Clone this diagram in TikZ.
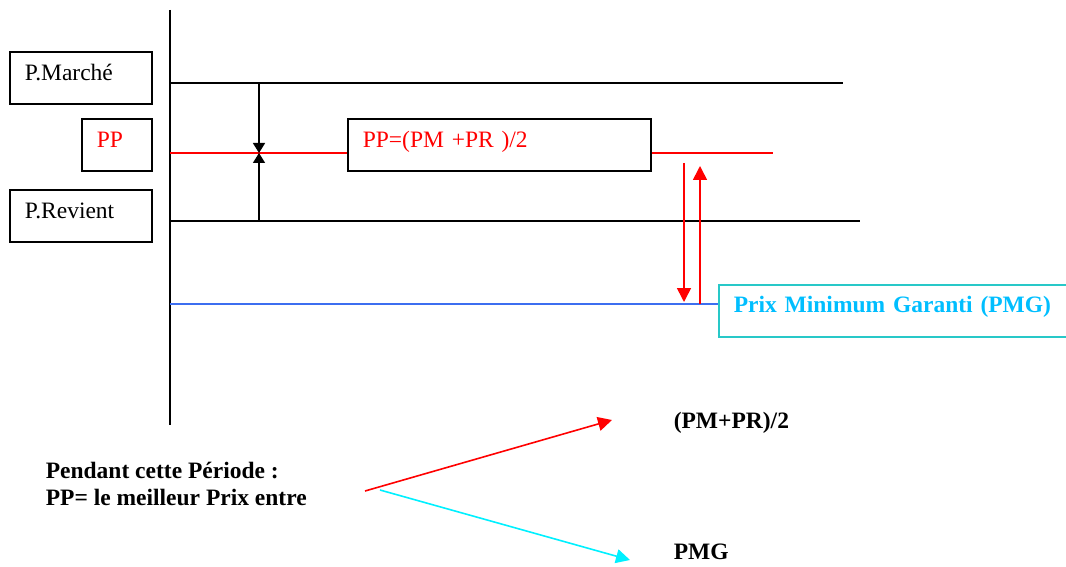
\documentclass[tikz,border=0pt]{standalone}
\usepackage{fontspec}
\setmainfont{Liberation Serif}
\usetikzlibrary{arrows.meta}
\definecolor{pmgblue}{RGB}{60,110,240}
\definecolor{pmgcyan}{RGB}{40,200,200}
\definecolor{pmgtext}{RGB}{0,190,255}
\definecolor{arrcyan}{RGB}{0,240,255}
\begin{document}
\begin{tikzpicture}[x=1pt, y=-1pt, line width=1.6pt,
  every node/.style={font=\fontsize{23.5}{27}\selectfont, inner sep=0pt},
  pricebox/.style={draw, line width=1.6pt, anchor=north west, minimum height=52pt,
    inner xsep=15pt, align=left, text height=16pt, text depth=11pt},
  tip/.style={-{Triangle[length=10pt,width=12pt]}},
  redtip/.style={-{Triangle[length=14pt,width=14pt]}, red}]
  \useasboundingbox (0,0) rectangle (1066,567);
  % axis and price levels
  \coordinate (axtop) at (170,10);
  \coordinate (axbot) at (170,425);
  \coordinate (pmL) at (170,83);
  \coordinate (pmR) at (843,83);
  \coordinate (prL) at (170,221);
  \coordinate (prR) at (860,221);
  \coordinate (ppL) at (170,153);
  \coordinate (ppR) at (773,153);
  \coordinate (pgL) at (170,304);
  \node[pricebox, minimum width=142pt, text width=112pt] (marche) at (9,51) {P.Marché};
  \node[pricebox, minimum width=70pt, text width=40pt, text=red] (pp) at (81,118) {PP};
  \node[pricebox, minimum width=142pt, text width=112pt] (revient) at (9,189) {P.Revient};
  \node[pricebox, minimum width=303pt, text width=273pt, text=red] (formule) at (347,118) {PP=(PM +PR )/2};
  \node[pricebox, draw=pmgcyan, minimum width=352pt, text width=322pt, text=pmgtext,
    font=\fontsize{23.5}{27}\selectfont\bfseries, text depth=13pt] (pmg) at (718,284) {Prix Minimum Garanti (PMG)};
  \draw (axtop)--(axbot) (pmL)--(pmR) (prL)--(prR);
  \draw[red] (ppL)--(ppL -| formule.west) (formule.east |- ppL)--(ppR);
  \draw[pmgblue] (pgL)--(pgL -| pmg.west);
  % ecart PM / PR
  \coordinate (mid) at (259,153);
  \draw[tip] (259,83)--(mid);
  \draw[tip] (259,221)--(mid);
  \draw[redtip] (684,163)--(684,302);
  \draw[redtip] (700,304)--(700,166);
  % choix du meilleur prix
  \node[anchor=west, align=left, font=\fontsize{23.5}{27}\selectfont\bfseries] (periode) at (45,484)
    {Pendant cette Période :\\PP= le meilleur Prix entre};
  \node[anchor=west, font=\fontsize{23.5}{27}\selectfont\bfseries] (moyenne) at (673,423) {(PM+PR)/2};
  \node[anchor=west, font=\fontsize{23.5}{27}\selectfont\bfseries] (garanti) at (673,552) {PMG};
  \coordinate (fork1) at (365,491);
  \coordinate (fork2) at (380,490);
  \draw[redtip] (fork1)--(612,420);
  \draw[-{Triangle[length=14pt,width=14pt]}, arrcyan] (fork2)--(630,560);
\end{tikzpicture}
\end{document}
